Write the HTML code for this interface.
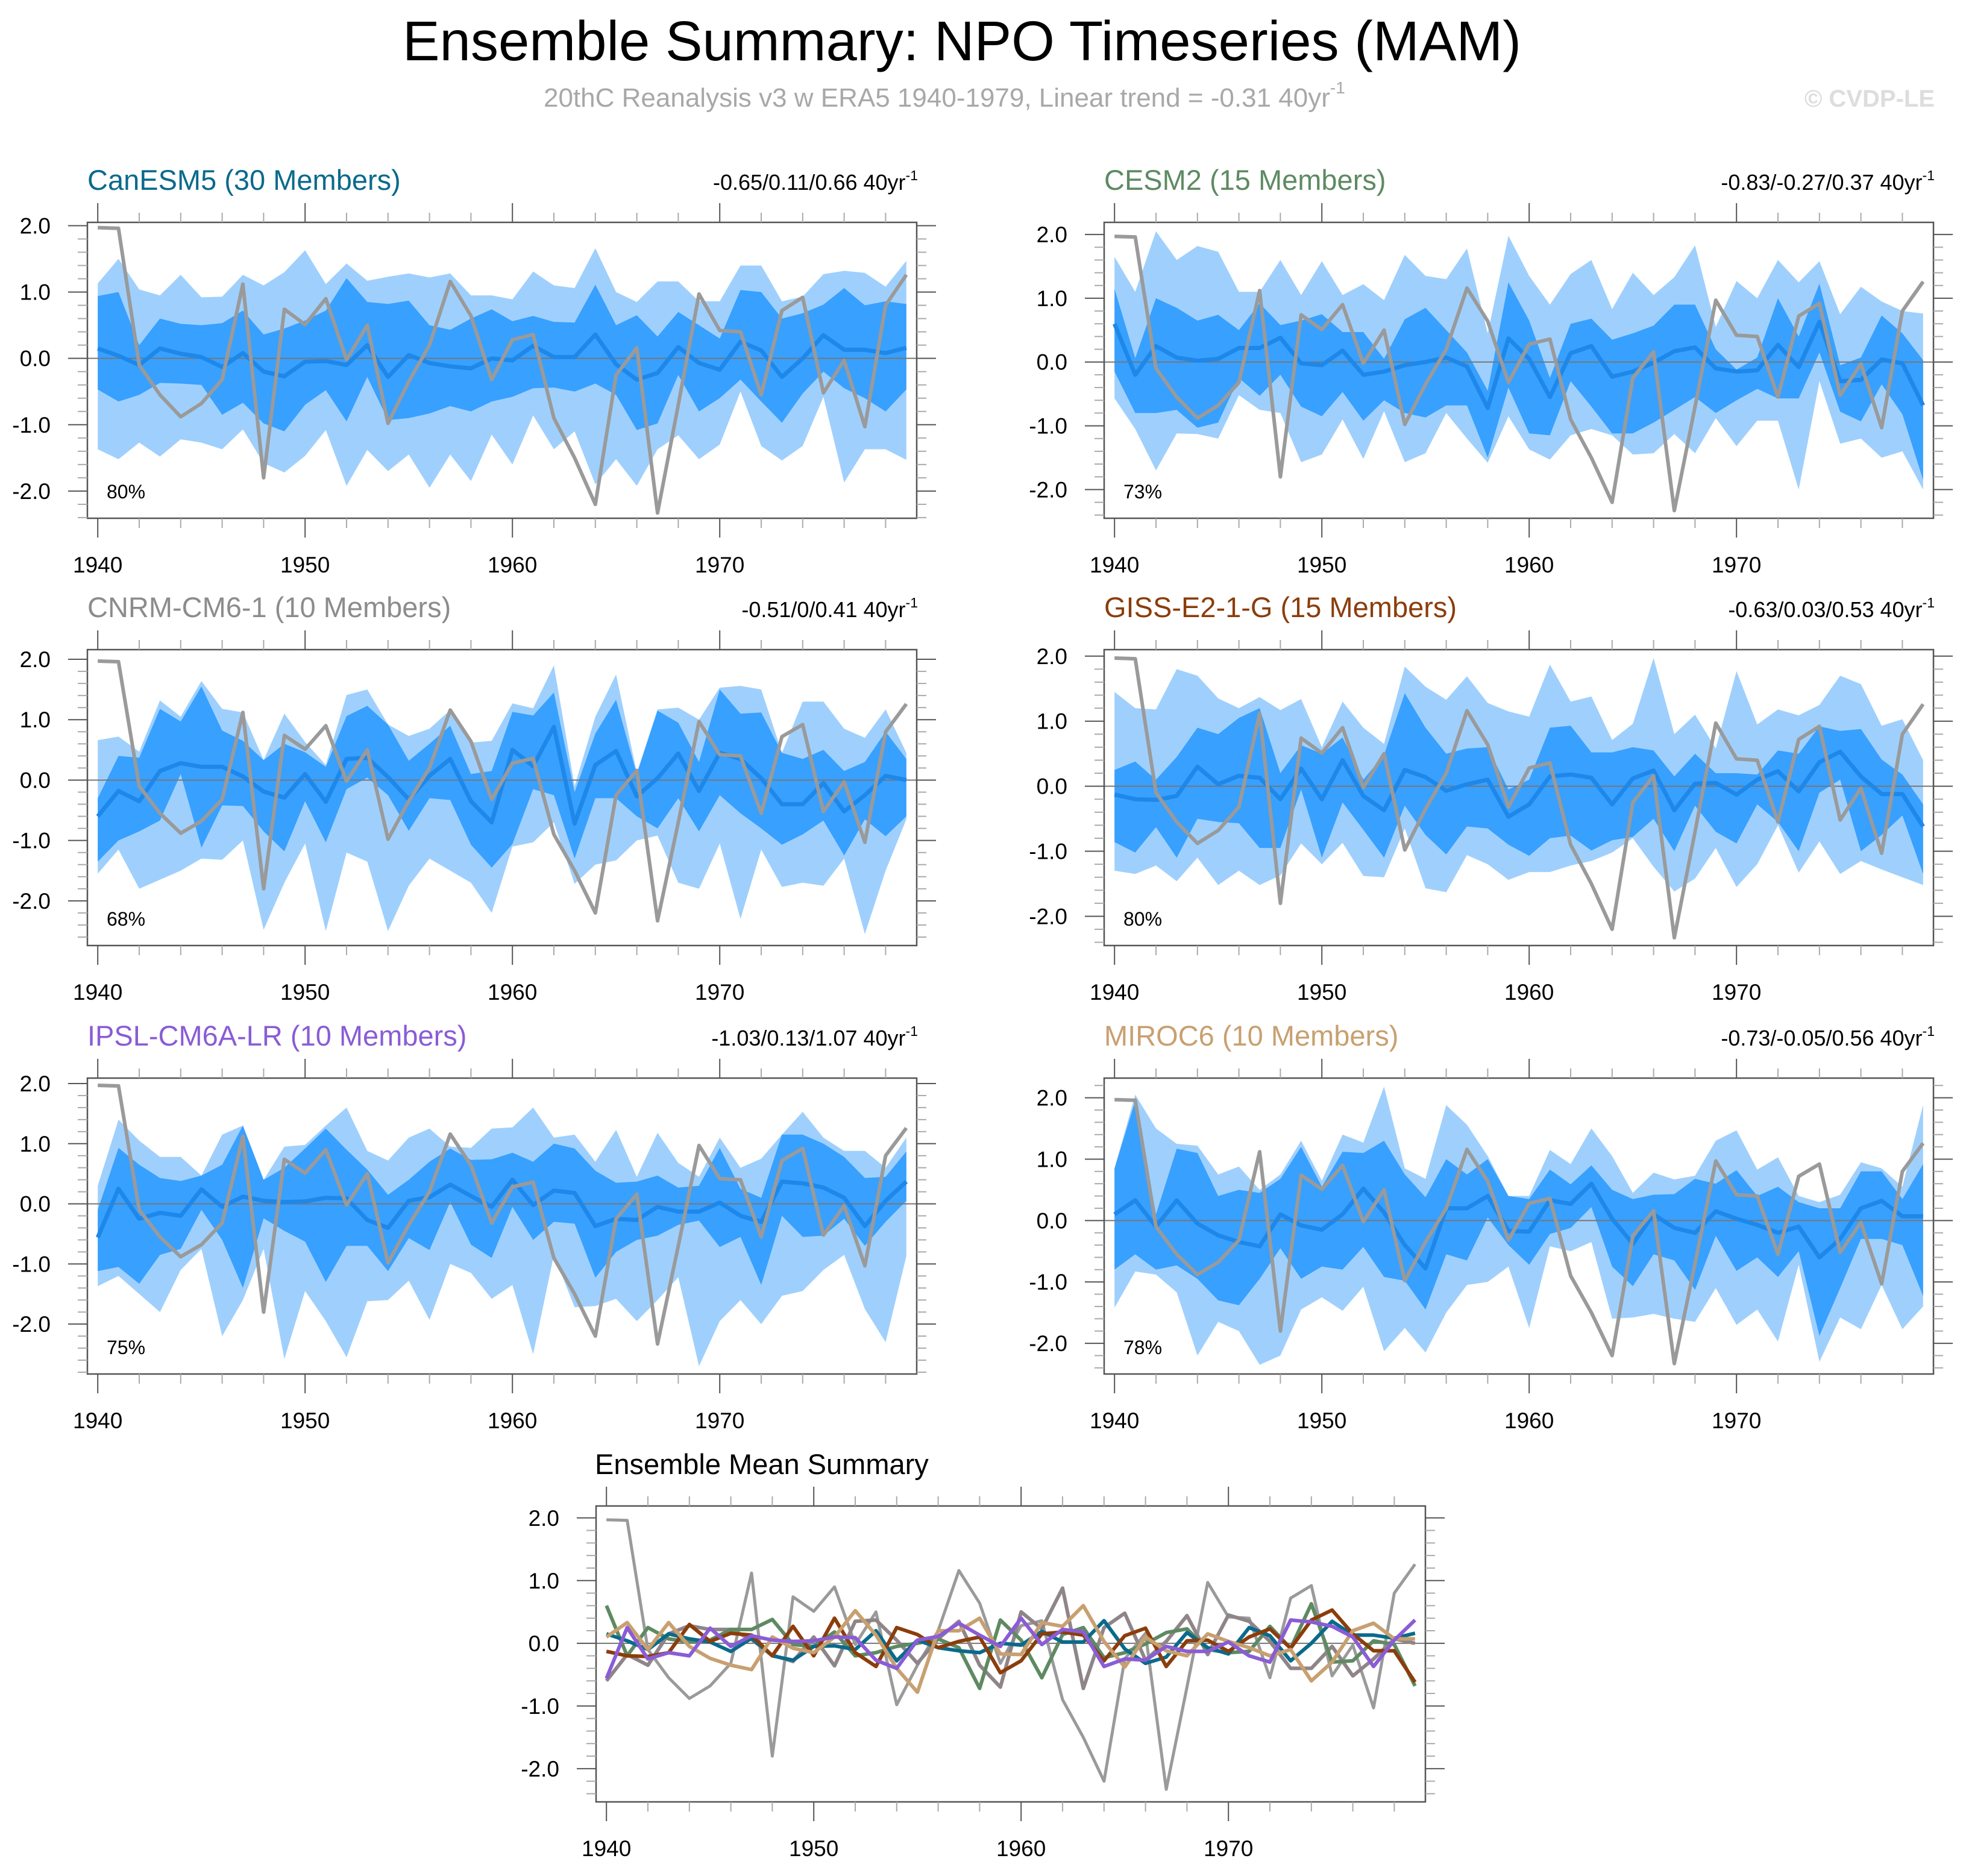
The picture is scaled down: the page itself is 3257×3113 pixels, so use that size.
<!DOCTYPE html>
<html><head><meta charset="utf-8">
<style>
html,body{margin:0;padding:0;background:#fff;}
svg{display:block;font-family:"Liberation Sans",Arial,sans-serif;}
</style></head>
<body>
<svg id="fig" width="3257" height="3113" viewBox="0 0 3257 3113" xmlns="http://www.w3.org/2000/svg">
<rect width="3257" height="3113" fill="#fff"/>
<text x="1596" y="100" font-size="93" text-anchor="middle" fill="#000" textLength="1856" lengthAdjust="spacingAndGlyphs">Ensemble Summary: NPO Timeseries (MAM)</text>
<text x="902" y="177" font-size="44" fill="#a8a8a8">20thC Reanalysis v3 w ERA5 1940-1979, Linear trend = -0.31 40yr<tspan font-size="28" dy="-22">-1</tspan></text>
<text x="3210" y="177" font-size="40" font-weight="bold" fill="#dddddd" text-anchor="end">© CVDP-LE</text>
<g id="panels"></g>
</svg>
<script>
const years = [1940,1941,1942,1943,1944,1945,1946,1947,1948,1949,1950,1951,1952,1953,1954,1955,1956,1957,1958,1959,1960,1961,1962,1963,1964,1965,1966,1967,1968,1969,1970,1971,1972,1973,1974,1975,1976,1977,1978,1979];
const obs = [1.97,1.96,-0.1,-0.55,-0.88,-0.68,-0.32,1.12,-1.8,0.74,0.51,0.9,-0.02,0.5,-0.98,-0.35,0.2,1.16,0.64,-0.32,0.28,0.36,-0.9,-1.5,-2.2,-0.25,0.16,-2.33,-0.7,0.97,0.42,0.4,-0.55,0.72,0.92,-0.52,-0.03,-1.03,0.8,1.26];

const canOU = [1.13,1.5,1.04,0.95,1.26,0.92,0.93,1.26,1.1,1.3,1.63,1.12,1.43,1.17,1.23,1.28,1.22,1.28,0.95,0.95,0.89,1.31,1.1,1.06,1.66,1.0,0.85,1.16,1.16,0.86,0.86,1.4,1.4,0.86,0.93,1.27,1.32,1.29,1.08,1.47];
const canIU = [0.94,1.0,0.2,0.6,0.52,0.5,0.53,0.72,0.36,0.45,0.57,0.72,1.21,0.85,0.82,0.87,0.5,0.43,0.6,0.74,0.56,0.64,0.55,0.54,1.11,0.5,0.65,0.33,0.7,0.5,0.3,1.03,1.0,0.6,0.68,0.81,1.06,0.8,0.86,0.82];
const canM = [0.15,0.04,-0.1,0.15,0.07,0.02,-0.13,0.08,-0.2,-0.27,-0.05,-0.04,-0.1,0.2,-0.28,0.05,-0.07,-0.12,-0.15,0.0,-0.03,0.19,0.02,0.02,0.36,-0.09,-0.32,-0.22,0.17,-0.07,-0.17,0.25,0.12,-0.28,0.0,0.35,0.13,0.13,0.08,0.16];
const canIL = [-0.47,-0.65,-0.55,-0.37,-0.38,-0.4,-0.85,-0.67,-0.98,-1.1,-0.7,-0.48,-0.95,-0.28,-0.93,-0.9,-0.83,-0.72,-0.8,-0.65,-0.58,-0.45,-0.44,-0.5,-0.38,-0.55,-1.08,-0.98,-0.25,-0.8,-0.6,-0.32,-0.65,-0.97,-0.53,-0.2,-0.45,-0.6,-0.8,-0.47];
const canOL = [-1.37,-1.52,-1.27,-1.48,-1.22,-1.27,-1.37,-1.07,-1.58,-1.72,-1.47,-1.08,-1.92,-1.38,-1.7,-1.45,-1.95,-1.45,-1.85,-1.15,-1.6,-0.86,-1.37,-1.1,-1.9,-1.52,-1.92,-1.37,-1.16,-1.52,-1.3,-0.5,-1.32,-1.54,-1.32,-0.58,-1.87,-1.37,-1.37,-1.53];

const cesOU = [1.65,1.1,2.05,1.6,1.82,1.73,1.1,1.1,1.6,1.05,1.58,1.05,1.22,0.97,1.68,1.35,1.3,1.78,0.45,1.98,1.35,0.9,1.38,1.6,0.83,1.4,1.05,1.33,1.83,0.55,1.27,1.0,1.6,1.25,1.58,0.75,1.18,0.95,0.8,0.76];
const cesIU = [1.15,0.06,1.0,0.85,0.65,0.74,0.5,0.92,0.58,0.65,0.75,0.47,0.47,0.05,0.67,0.85,0.5,0.15,-0.45,1.25,0.65,-0.25,0.6,0.68,0.35,0.45,0.57,0.9,0.9,0.2,-0.12,0.07,1.0,0.4,1.23,-0.05,0.07,0.73,0.45,0.03];
const cesM = [0.6,-0.2,0.25,0.07,0.02,0.05,0.22,0.22,0.38,-0.02,-0.05,0.18,-0.2,-0.15,-0.05,0.0,0.07,-0.07,-0.72,0.37,0.05,-0.55,0.14,0.25,-0.23,-0.15,-0.01,0.17,0.23,-0.1,-0.15,-0.13,0.27,-0.08,0.63,-0.3,-0.28,0.04,-0.02,-0.68];
const cesIL = [-0.15,-0.8,-0.8,-0.75,-1.03,-0.95,-0.25,-0.53,-0.2,-0.7,-0.85,-0.47,-0.92,-0.6,-0.8,-0.87,-0.68,-0.68,-1.5,-0.4,-1.12,-1.15,-0.3,-0.7,-1.12,-1.12,-0.95,-0.75,-0.55,-0.8,-0.6,-0.42,-0.57,-0.57,0.15,-0.78,-0.93,-0.35,-0.82,-1.85];
const cesOL = [-0.57,-1.05,-1.7,-1.12,-1.13,-1.2,-0.52,-0.75,-0.8,-1.57,-1.45,-0.9,-1.52,-0.77,-1.57,-1.43,-0.8,-1.2,-1.58,-0.85,-1.37,-1.53,-1.15,-1.05,-1.15,-1.45,-1.43,-1.13,-1.43,-0.88,-1.32,-0.92,-0.92,-2.0,-0.3,-1.28,-1.2,-1.5,-1.4,-2.0];

const cnrOU = [0.66,0.72,0.47,1.32,1.05,1.64,1.18,1.12,0.33,1.1,0.63,0.25,1.41,1.5,0.92,0.73,0.85,1.16,0.62,0.65,1.27,1.19,1.9,-0.1,1.05,1.75,0.12,1.17,1.2,1.0,1.53,1.56,1.5,0.45,1.3,1.3,0.85,0.7,1.17,0.45];
const cnrIU = [-0.3,0.4,0.37,1.18,0.97,1.55,0.82,0.65,0.33,0.6,0.46,0.22,1.06,1.23,0.92,0.32,0.6,0.9,0.1,0.15,1.13,1.07,1.45,-0.2,0.77,1.33,0.1,1.15,0.95,0.3,1.5,1.1,1.12,0.45,0.35,0.5,0.15,0.3,0.8,0.35];
const cnrM = [-0.6,-0.18,-0.35,0.15,0.28,0.22,0.22,0.06,-0.19,-0.29,0.1,-0.36,0.35,0.37,0.05,-0.32,0.07,0.35,-0.35,-0.7,0.5,0.23,0.88,-0.72,0.25,0.48,-0.27,0.03,0.44,-0.18,0.45,0.35,0.03,-0.4,-0.4,-0.05,-0.52,-0.25,0.07,0.0];
const cnrIL = [-1.35,-1.0,-0.85,-0.67,0.1,-1.12,-0.42,-0.43,-0.85,-1.18,-0.35,-1.03,-0.15,0.04,-0.25,-0.84,-0.3,-0.33,-1.07,-1.45,-1.06,-0.15,-0.25,-1.3,-0.3,-0.3,-0.6,-0.8,-0.3,-0.85,-0.25,-0.55,-0.8,-1.07,-0.9,-0.67,-1.25,-0.65,-0.93,-0.6];
const cnrOL = [-1.55,-1.15,-1.8,-1.65,-1.5,-1.3,-1.32,-1.0,-2.48,-1.7,-1.05,-2.5,-1.2,-1.35,-2.5,-1.75,-1.3,-1.5,-1.7,-2.2,-1.1,-1.03,-0.7,-1.72,-1.4,-1.33,-1.0,-0.92,-1.7,-1.8,-1.05,-2.3,-1.15,-1.77,-1.7,-1.75,-1.3,-2.55,-1.5,-0.65];

const gisOU = [1.45,1.2,1.18,1.8,1.7,1.35,1.2,1.37,1.17,1.34,0.6,1.3,0.9,0.65,1.84,1.53,1.33,1.69,1.28,1.15,1.07,1.87,1.3,1.38,0.71,0.96,1.97,0.8,1.1,0.58,1.77,0.95,1.18,1.09,1.25,1.7,1.57,0.93,1.03,0.4];
const gisIU = [0.25,0.38,0.1,0.45,0.9,0.8,1.05,1.2,0.2,0.63,0.5,0.75,0.1,0.48,1.43,0.9,0.5,0.58,0.6,-0.05,0.1,0.9,0.93,0.52,0.52,0.6,0.55,0.15,0.5,0.2,0.2,0.18,0.55,0.5,0.92,0.85,0.88,0.41,0.18,-0.28];
const gisM = [-0.13,-0.2,-0.21,-0.15,0.3,0.03,0.16,0.13,-0.2,0.27,-0.2,0.4,-0.15,-0.37,0.25,0.14,-0.07,0.03,0.1,-0.47,-0.28,0.15,0.18,0.13,-0.28,0.12,0.24,-0.37,0.04,0.05,-0.13,0.1,0.23,-0.08,0.37,0.53,0.15,-0.12,-0.12,-0.62];
const gisIL = [-0.86,-1.02,-0.63,-1.1,-0.5,-0.55,-0.57,-0.95,-0.95,-0.05,-1.1,-0.25,-0.67,-1.1,-0.3,-0.75,-1.05,-0.62,-0.65,-0.9,-1.07,-0.8,-0.76,-0.99,-0.83,-0.78,-0.5,-1.0,-0.3,-0.7,-0.88,-0.28,-0.55,-1.0,-0.1,0.1,-1.0,-0.75,-0.45,-1.35];
const gisOL = [-1.3,-1.35,-1.22,-1.46,-1.1,-1.52,-1.3,-1.52,-1.37,-0.88,-1.2,-0.87,-1.38,-1.4,-0.65,-1.57,-1.63,-1.06,-1.2,-1.44,-1.32,-1.32,-1.22,-1.15,-1.02,-0.8,-1.24,-1.62,-1.42,-0.95,-1.55,-1.2,-0.6,-1.33,-0.85,-1.35,-1.15,-1.28,-1.4,-1.52];

const ipsOU = [0.3,1.4,1.05,0.78,0.78,0.47,1.15,1.3,0.4,0.95,0.98,1.3,1.6,0.88,0.72,1.1,1.25,0.95,0.93,1.25,1.27,1.6,1.1,1.15,0.7,1.23,0.45,1.18,0.68,0.45,1.1,0.6,0.75,1.15,1.53,1.1,0.88,0.88,0.6,1.1];
const ipsIU = [-0.1,0.93,0.65,0.43,0.38,0.47,0.65,1.3,0.4,0.6,0.92,1.25,0.9,0.57,0.15,0.4,0.7,0.92,0.73,0.74,0.85,0.7,1.0,0.92,0.55,0.35,0.37,0.47,0.27,0.3,0.93,0.25,0.1,1.15,1.15,1.0,0.78,0.43,0.45,0.87];
const ipsM = [-0.56,0.25,-0.25,-0.15,-0.2,0.24,-0.05,0.12,0.05,0.03,0.04,0.1,0.09,-0.27,-0.4,0.05,0.11,0.32,0.13,-0.05,0.4,-0.02,0.22,0.18,-0.37,-0.25,-0.27,-0.05,-0.13,-0.13,0.02,-0.2,-0.3,0.37,0.34,0.27,0.1,-0.37,0.05,0.37];
const ipsIL = [-1.12,-1.05,-1.33,-0.85,-0.75,-0.1,-0.6,-1.4,-0.24,-0.45,-0.63,-1.3,-0.7,-0.7,-1.12,-0.57,-0.77,0.03,-0.68,-0.9,-0.05,-0.6,-0.3,-0.33,-1.23,-0.8,-0.6,-0.53,-0.35,-0.28,-0.72,-0.55,-1.35,-0.2,-0.55,-0.53,-0.25,-0.7,-0.3,0.05];
const ipsOL = [-1.37,-1.2,-1.5,-1.8,-1.1,-0.75,-2.2,-1.6,-0.75,-2.58,-1.45,-1.95,-2.55,-1.62,-1.6,-1.28,-1.93,-1.0,-1.15,-1.58,-1.35,-2.5,-0.85,-1.72,-1.7,-1.58,-1.95,-1.6,-1.22,-2.7,-1.95,-1.6,-2.0,-1.53,-1.45,-1.1,-0.85,-1.75,-2.3,-0.87];

const mirOU = [0.85,2.05,1.5,1.25,1.22,0.75,0.88,0.5,0.75,1.3,0.65,1.4,1.27,2.18,0.85,0.68,1.88,1.56,1.05,0.4,0.4,1.15,0.92,1.5,1.05,0.45,0.78,0.67,0.73,1.3,1.47,0.83,1.03,0.4,0.3,0.42,0.95,0.85,0.55,1.88];
const mirIU = [0.85,1.95,0.1,1.17,1.1,0.4,0.5,0.45,0.68,1.2,0.55,1.12,1.1,1.3,0.75,0.38,1.0,0.75,1.0,0.4,0.35,0.83,0.59,0.9,0.5,0.35,0.42,0.43,0.68,0.6,0.82,0.4,0.55,0.3,0.2,0.2,0.8,0.8,0.35,0.92];
const mirM = [0.1,0.33,-0.1,0.33,-0.05,-0.24,-0.35,-0.42,0.1,-0.08,-0.15,0.1,0.52,0.13,-0.4,-0.78,0.2,0.2,0.4,-0.17,-0.18,0.33,0.27,0.6,0.03,-0.38,0.1,-0.12,-0.2,0.15,0.03,-0.07,-0.2,-0.1,-0.6,-0.3,0.2,0.32,0.07,0.07];
const mirIL = [-0.8,-0.55,-0.8,-0.73,-0.95,-1.3,-1.38,-0.95,-0.45,-0.95,-0.75,-0.8,-0.43,-0.92,-0.98,-1.45,-0.55,-0.65,0.05,-0.4,-0.72,-0.22,-0.12,0.22,-0.75,-1.07,-0.55,-0.65,-1.13,-0.25,-0.82,-0.6,-0.92,-0.5,-1.88,-1.1,-0.3,-0.3,-0.4,-1.23];
const mirOL = [-1.42,-0.83,-0.88,-1.17,-2.2,-1.65,-1.8,-2.35,-2.2,-1.45,-1.25,-1.47,-1.08,-2.13,-1.75,-2.15,-1.5,-1.05,-1.0,-0.75,-1.75,-0.42,-0.5,-0.35,-1.6,-1.58,-1.52,-1.6,-1.65,-1.1,-1.7,-1.45,-1.97,-0.72,-2.3,-1.58,-1.77,-1.05,-1.77,-1.4];

const NS='http://www.w3.org/2000/svg';
const root=document.getElementById('panels');
function mk(tag,attrs,parent){const e=document.createElementNS(NS,tag);for(const k in attrs)e.setAttribute(k,attrs[k]);(parent||root).appendChild(e);return e;}

const PW=1376, PH=491;
const panels=[
 {key:'canesm5',title:'CanESM5 (30 Members)',color:'#0a6a8c',trend:'-0.65/0.11/0.66',pct:'80%',x:145,y:369,ymax:2.05,ymin:-2.41,d:[canOU,canIU,canM,canIL,canOL]},
 {key:'cesm2',title:'CESM2 (15 Members)',color:'#5e8a62',trend:'-0.83/-0.27/0.37',pct:'73%',x:1832,y:369,ymax:2.19,ymin:-2.45,d:[cesOU,cesIU,cesM,cesIL,cesOL]},
 {key:'cnrm-cm6-1',title:'CNRM-CM6-1 (10 Members)',color:'#8c8c8c',trend:'-0.51/0/0.41',pct:'68%',x:145,y:1078,ymax:2.16,ymin:-2.74,d:[cnrOU,cnrIU,cnrM,cnrIL,cnrOL]},
 {key:'giss-e2-1-g',title:'GISS-E2-1-G (15 Members)',color:'#8b3d0b',trend:'-0.63/0.03/0.53',pct:'80%',x:1832,y:1078,ymax:2.10,ymin:-2.45,d:[gisOU,gisIU,gisM,gisIL,gisOL]},
 {key:'ipsl-cm6a-lr',title:'IPSL-CM6A-LR (10 Members)',color:'#8a5cd6',trend:'-1.03/0.13/1.07',pct:'75%',x:145,y:1789,ymax:2.09,ymin:-2.83,d:[ipsOU,ipsIU,ipsM,ipsIL,ipsOL]},
 {key:'miroc6',title:'MIROC6 (10 Members)',color:'#c8a070',trend:'-0.73/-0.05/0.56',pct:'78%',x:1832,y:1789,ymax:2.32,ymin:-2.5,d:[mirOU,mirIU,mirM,mirIL,mirOL]}
];

function axes(g,x0,y0,ymin,ymax){
  const xs=yr=>x0+PW*(yr-1939.5)/40;
  const ys=v=>y0+PH*(ymax-v)/(ymax-ymin);
  return {xs,ys};
}
function frame(g,p,A,name){
  const z=mk('line',{x1:p.x,x2:p.x+PW,y1:A.ys(0),y2:A.ys(0),stroke:'#777','stroke-width':2},g);
  
  
  const f=mk('rect',{x:p.x,y:p.y,width:PW,height:PH,fill:'none',stroke:'#555','stroke-width':2.5},g);
  
  
  for(let yr=1940;yr<=1978;yr+=2){
    const major=(yr%10===0), L=major?32:16, xx=A.xs(yr);
    mk('line',{x1:xx,x2:xx,y1:p.y,y2:p.y-L,stroke:major?'#555':'#aaa','stroke-width':2},g);
    mk('line',{x1:xx,x2:xx,y1:p.y+PH,y2:p.y+PH+L,stroke:major?'#555':'#aaa','stroke-width':2},g);
    if(major){
      const t=mk('text',{x:xx,y:p.y+PH+90,'font-size':37,'text-anchor':'middle',fill:'#000'},g);
      t.textContent=yr;
      
      
    }
  }
  const lo=Math.ceil(p.ymin*5-1e-6), hi=Math.floor(p.ymax*5+1e-6);
  for(let k=lo;k<=hi;k++){
    const v=k/5, major=(k%5===0), L=major?32:16, yy=A.ys(v);
    mk('line',{x1:p.x,x2:p.x-L,y1:yy,y2:yy,stroke:major?'#555':'#aaa','stroke-width':2},g);
    mk('line',{x1:p.x+PW,x2:p.x+PW+L,y1:yy,y2:yy,stroke:major?'#555':'#aaa','stroke-width':2},g);
    if(major){
      const t=mk('text',{x:p.x-61,y:yy+13,'font-size':37,'text-anchor':'end',fill:'#000'},g);
      t.textContent=v.toFixed(1);
      
      
    }
  }
}
function linePts(A,arr){return arr.map((v,i)=>A.xs(years[i]).toFixed(1)+','+A.ys(v).toFixed(1)).join(' ');}
function bandPts(A,up,low){
  const a=up.map((v,i)=>A.xs(years[i]).toFixed(1)+','+A.ys(v).toFixed(1));
  const b=low.map((v,i)=>A.xs(years[i]).toFixed(1)+','+A.ys(v).toFixed(1)).reverse();
  return a.concat(b).join(' ');
}

panels.forEach(p=>{
  const g=mk('g',{});
  
  
  const A=axes(g,p.x,p.y,p.ymin,p.ymax);
  const t=mk('text',{x:p.x,y:p.y-54,'font-size':47,fill:p.color},g);
  t.textContent=p.title;
  
  
  const tr=mk('text',{x:p.x+PW+2,y:p.y-54,'font-size':36,'text-anchor':'end',fill:'#000'},g);
  tr.innerHTML=p.trend+' 40yr<tspan font-size="23" dy="-16">-1</tspan>';
  
  
  const outer=mk('polygon',{points:bandPts(A,p.d[0],p.d[4]),fill:'#9fd0fd'},g);
  
  
  const inner=mk('polygon',{points:bandPts(A,p.d[1],p.d[3]),fill:'#38a0ff'},g);
  
  
  frame(g,p,A,p.key);
  const m=mk('polyline',{points:linePts(A,p.d[2]),fill:'none',stroke:'#1e88ea','stroke-width':7,'stroke-linejoin':'round'},g);
  
  
  const o=mk('polyline',{points:linePts(A,obs),fill:'none',stroke:'#9a9a9a','stroke-width':6,'stroke-linejoin':'round'},g);
  
  
  const pc=mk('text',{x:p.x+32,y:p.y+PH-33,'font-size':32,fill:'#000'},g);
  pc.textContent=p.pct;
  
  
});

const bp={x:989,y:2499,ymax:2.19,ymin:-2.53};
const gb=mk('g',{});


const AB=axes(gb,bp.x,bp.y,bp.ymin,bp.ymax);
const bt=mk('text',{x:987,y:2446,'font-size':47,fill:'#000'},gb);
bt.textContent='Ensemble Mean Summary';


frame(gb,bp,AB,'summary');
const ob=mk('polyline',{points:linePts(AB,obs),fill:'none',stroke:'#9a9a9a','stroke-width':5,'stroke-linejoin':'round'},gb);


const order=[2,1,0,3,5,4];
order.forEach(i=>{
  const p=panels[i];
  const col=(p.key==='cnrm-cm6-1')?'#8f8589':p.color;
  const l=mk('polyline',{points:linePts(AB,p.d[2]),fill:'none',stroke:col,'stroke-width':6,'stroke-linejoin':'round'},gb);
  
  
});
</script>
</body></html>
